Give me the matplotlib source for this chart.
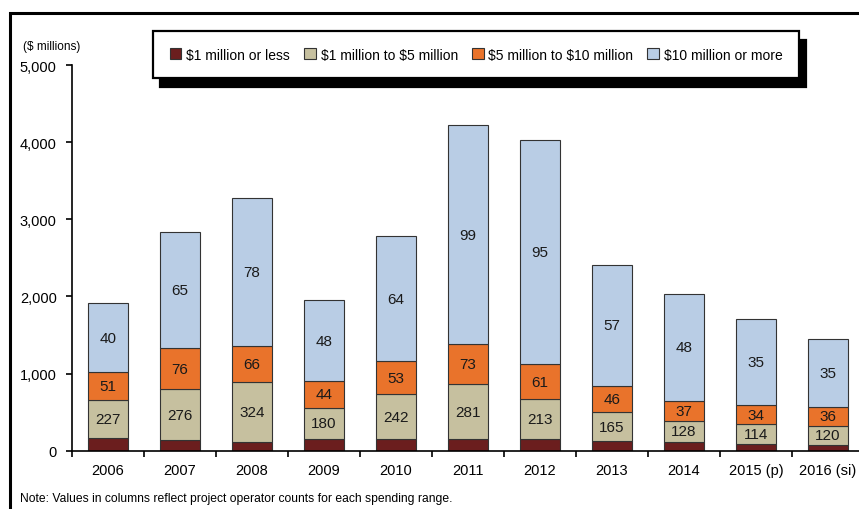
import numpy as np
import matplotlib.pyplot as plt
from matplotlib.patches import Rectangle

plt.rcParams['font.family'] = ['Liberation Sans', 'DejaVu Sans']

# Data ($ millions)
years = ["2006", "2007", "2008", "2009", "2010", "2011", "2012", "2013", "2014", "2015 (p)", "2016 (si)"]
under_1m = [160, 140, 113, 156, 152, 148, 156, 126, 113, 91, 74]
m1_to_5 = [493, 656, 774, 402, 579, 713, 514, 372, 276, 259, 250]
m5_to_10 = [363, 531, 470, 346, 428, 518, 450, 345, 259, 238, 242]
over_10m = [894, 1504, 1919, 1046, 1620, 2847, 2908, 1568, 1383, 1123, 886]

# Project operator counts shown inside the columns
cnt_1_to_5 = [227, 276, 324, 180, 242, 281, 213, 165, 128, 114, 120]
cnt_5_to_10 = [51, 76, 66, 44, 53, 73, 61, 46, 37, 34, 36]
cnt_10_plus = [40, 65, 78, 48, 64, 99, 95, 57, 48, 35, 35]

series = [
    (under_1m, "$1 million or less", "#6b1e1e", None),
    (m1_to_5, "$1 million to $5 million", "#c6c09f", cnt_1_to_5),
    (m5_to_10, "$5 million to $10 million", "#e9732b", cnt_5_to_10),
    (over_10m, "$10 million or more", "#b9cde5", cnt_10_plus),
]

W, H = 859, 510
fig = plt.figure(figsize=(W / 100, H / 100), dpi=100)
ax = fig.add_axes([72 / W, 58.3 / H, (864 - 72) / W, (444 - 58.3) / H])

x = np.arange(len(years))
bottom = np.zeros(len(years))
for vals, label, color, counts in series:
    bars = ax.bar(x, vals, 0.56, bottom=bottom, color=color, edgecolor="#333333",
                  linewidth=0.8, label=label.replace("$", r"\$"))
    if counts is not None:
        ax.bar_label(bars, labels=[str(c) for c in counts], label_type="center",
                     fontsize=11, color="#1a1a1a")
    bottom += np.array(vals)

ax.set_xlim(-0.5, len(years) - 0.5)
ax.set_ylim(0, 5000)
ax.set_yticks(np.arange(0, 5001, 1000))
ax.set_yticklabels([f"{v:,}" for v in range(0, 5001, 1000)], fontsize=10.5)
ax.set_xticks(x)
ax.set_xticklabels(years, fontsize=10.5)
ax.set_xticks(np.arange(-0.5, len(years), 1), minor=True)
ax.tick_params(axis="x", which="major", length=0, pad=9)
ax.tick_params(axis="x", which="minor", length=4, width=1.2, direction="out")
ax.tick_params(axis="y", length=4, width=1.2, pad=7)
for s in ["top", "right"]:
    ax.spines[s].set_visible(False)
ax.spines["left"].set_linewidth(1.2)
ax.spines["bottom"].set_linewidth(1.2)
ax.spines["bottom"].set_clip_on(False)

fig.text(23 / W, 1 - 47 / H, "(\\$ millions)", fontsize=8.5, va="center", ha="left")
fig.text(20 / W, 1 - 499 / H,
         "Note: Values in columns reflect project operator counts for each spending range.",
         fontsize=8.7, va="center", ha="left")

leg = ax.legend(loc="upper left", bbox_to_anchor=(153 / W, 1 - 32 / H),
                bbox_transform=fig.transFigure, ncol=4, fontsize=10, frameon=True,
                fancybox=False, borderaxespad=0, borderpad=1.2,
                handlelength=0.85, handleheight=0.85, handletextpad=0.35,
                columnspacing=1.0,
                shadow={"ox": 5, "oy": -6.5, "facecolor": "black",
                        "edgecolor": "black", "alpha": 1})
leg.get_frame().set_edgecolor("black")
leg.get_frame().set_linewidth(1.6)

# outer frame around the exhibit
fig.add_artist(Rectangle((9.5 / W, -0.1), 1.2, 1 - 13.5 / H + 0.1,
                         transform=fig.transFigure, fill=False,
                         edgecolor="black", linewidth=2.2))

fig.savefig("out.png", dpi=100)
